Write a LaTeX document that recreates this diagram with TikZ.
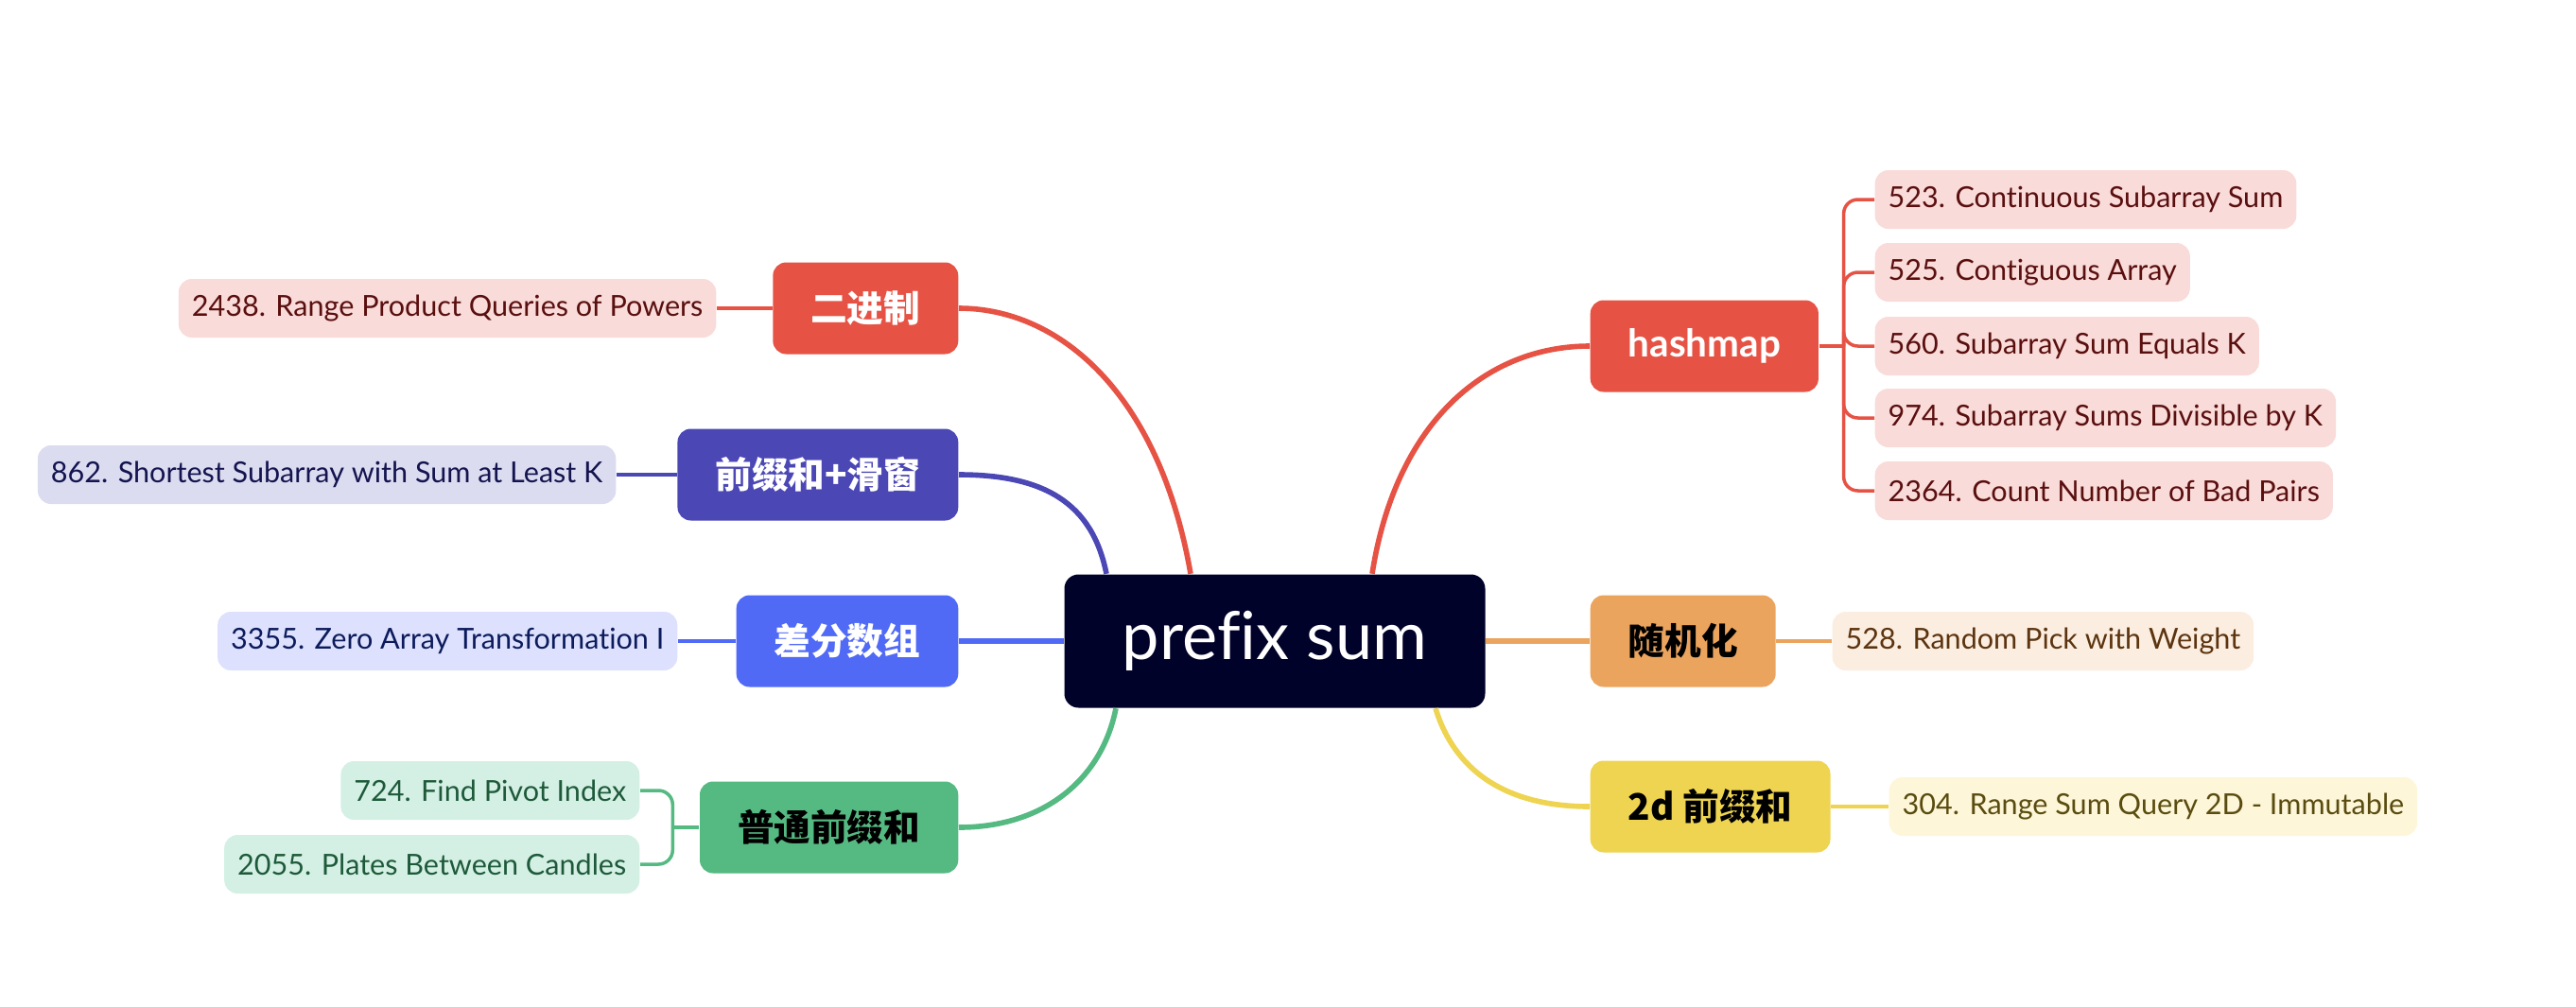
\documentclass[tikz,border=0pt]{standalone}
\usepackage{fontspec}
\setmainfont{Lato}[Ligatures=NoCommon]
\newfontfamily\cjk{Noto Sans CJK SC}
\definecolor{rootbg}{HTML}{000229}
\definecolor{cred}{HTML}{E65345}
\definecolor{cindigo}{HTML}{4B48B5}
\definecolor{cblue}{HTML}{516AF6}
\definecolor{cgreen}{HTML}{55B982}
\definecolor{corange}{HTML}{EBA45E}
\definecolor{cyellow}{HTML}{EED451}
\definecolor{lred}{HTML}{F9DBD9}
\definecolor{tred}{HTML}{5A0F0F}
\definecolor{lindigo}{HTML}{DCDCF0}
\definecolor{tindigo}{HTML}{141450}
\definecolor{lblue}{HTML}{DDE1FD}
\definecolor{tblue}{HTML}{0C1B5C}
\definecolor{lgreen}{HTML}{D4F0E5}
\definecolor{tgreen}{HTML}{1E5A3A}
\definecolor{lorange}{HTML}{FBEDE0}
\definecolor{torange}{HTML}{5C3410}
\definecolor{lyellow}{HTML}{FDF6D8}
\definecolor{tyellow}{HTML}{5A4C10}
\tikzset{
  root/.style={fill=rootbg, text=white, rounded corners=0.15cm, minimum width=4.45cm,
    minimum height=1.41cm, font=\fontsize{20}{24}\selectfont},
  topic/.style={rounded corners=0.14cm, minimum height=0.97cm, inner xsep=0.4cm,
    font=\cjk\bfseries\fontsize{11}{13}\selectfont},
  leaf/.style={rounded corners=0.14cm, minimum height=0.62cm, inner xsep=0.14cm,
    font=\fontsize{8.7}{11}\selectfont},
  branch/.style={line width=1.6pt},
  twig/.style={line width=1pt},
}
\begin{document}
\begin{tikzpicture}
	\useasboundingbox (0,0) rectangle (27.24,-10.64);
	% root and topics
	\node[root] (root) at (13.48,-6.78) {prefix sum};
	\node[topic, fill=cred, text=white, anchor=east] (bin) at (10.14,-3.26) {二进制};
	\node[topic, fill=cindigo, text=white, anchor=east] (win) at (10.14,-5.02) {前缀和+滑窗};
	\node[topic, fill=cblue, text=white, anchor=east] (diff) at (10.14,-6.78) {差分数组};
	\node[topic, fill=cgreen, text=black, anchor=east] (plain) at (10.14,-8.75) {普通前缀和};
	\node[topic, fill=cred, text=white, anchor=west, font=\bfseries\fontsize{11.5}{13}\selectfont] (hm) at (16.81,-3.66) {hashmap};
	\node[topic, fill=corange, text=black, anchor=west] (rnd) at (16.81,-6.78) {随机化};
	\node[topic, fill=cyellow, text=black, anchor=west] (twod) at (16.81,-8.53) {2d 前缀和};
	% leaves, left side
	\node[leaf, fill=lred, text=tred, anchor=east] (p2438) at (7.58,-3.26) {2438. Range Product Queries of Powers};
	\node[leaf, fill=lindigo, text=tindigo, anchor=east] (p862) at (6.52,-5.02) {862. Shortest Subarray with Sum at Least K};
	\node[leaf, fill=lblue, text=tblue, anchor=east] (p3355) at (7.17,-6.78) {3355. Zero Array Transformation I};
	\node[leaf, fill=lgreen, text=tgreen, anchor=east] (p724) at (6.77,-8.36) {724. Find Pivot Index};
	\node[leaf, fill=lgreen, text=tgreen, anchor=east] (p2055) at (6.77,-9.14) {2055. Plates Between Candles};
	% leaves, right side
	\node[leaf, fill=lred, text=tred, anchor=west] (p523) at (19.82,-2.11) {523. Continuous Subarray Sum};
	\node[leaf, fill=lred, text=tred, anchor=west] (p525) at (19.82,-2.88) {525. Contiguous Array};
	\node[leaf, fill=lred, text=tred, anchor=west] (p560) at (19.82,-3.66) {560. Subarray Sum Equals K};
	\node[leaf, fill=lred, text=tred, anchor=west] (p974) at (19.82,-4.42) {974. Subarray Sums Divisible by K};
	\node[leaf, fill=lred, text=tred, anchor=west] (p2364) at (19.82,-5.19) {2364. Count Number of Bad Pairs};
	\node[leaf, fill=lorange, text=torange, anchor=west] (p528) at (19.37,-6.78) {528. Random Pick with Weight};
	\node[leaf, fill=lyellow, text=tyellow, anchor=west] (p304) at (19.97,-8.53) {304. Range Sum Query 2D - Immutable};
	% root to topics
	\draw[branch, cred] ([xshift=-0.89cm]root.north) .. controls +(-0.33,1.9) and +(1.07,0) .. (bin.east);
	\draw[branch, cindigo] ([xshift=-1.78cm]root.north) .. controls +(-0.15,0.75) and +(0.9,0) .. (win.east);
	\draw[branch, cblue] (root.west) -- (diff.east);
	\draw[branch, cgreen] ([xshift=-1.68cm]root.south) .. controls +(-0.15,-0.75) and +(0.9,0) .. (plain.east);
	\draw[branch, cred] ([xshift=1.03cm]root.north) .. controls +(0.25,1.6) and +(-1.1,0) .. (hm.west);
	\draw[branch, corange] (root.east) -- (rnd.west);
	\draw[branch, cyellow] ([xshift=1.70cm]root.south) .. controls +(0.2,-0.65) and +(-0.9,0) .. (twod.west);
	% topics to leaves
	\draw[twig, cred] (bin.west) -- (p2438.east);
	\draw[twig, cindigo] (win.west) -- (p862.east);
	\draw[twig, cblue] (diff.west) -- (p3355.east);
	\draw[twig, corange] (rnd.east) -- (p528.west);
	\draw[twig, cyellow] (twod.east) -- (p304.west);
	\coordinate (hmj) at ([xshift=0.26cm]hm.east);
	\draw[twig, cred] (hm.east) -- (hmj);
	\foreach \p in {p523,p525,p560,p974,p2364}
		\draw[twig, cred, rounded corners=0.15cm] (hmj) |- (\p.west);
	\coordinate (plj) at ([xshift=-0.28cm]plain.west);
	\draw[twig, cgreen] (plain.west) -- (plj);
	\foreach \p in {p724,p2055}
		\draw[twig, cgreen, rounded corners=0.15cm] (plj) |- (\p.east);
\end{tikzpicture}
\end{document}
